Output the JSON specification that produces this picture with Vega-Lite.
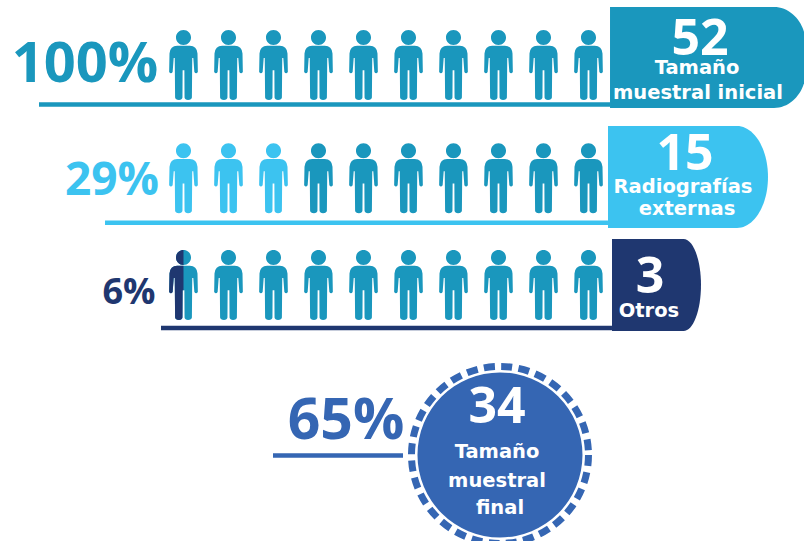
{
  "$schema": "https://vega.github.io/schema/vega-lite/v6.json",
  "width": 804,
  "height": 541,
  "padding": 0,
  "autosize": {"type": "none"},
  "background": "white",
  "config": {"view": {"stroke": null}},
  "datasets": {
    "personas": [
      {"fila": 1, "col": 1, "serie": "inicial"}, {"fila": 1, "col": 2, "serie": "inicial"}, {"fila": 1, "col": 3, "serie": "inicial"}, {"fila": 1, "col": 4, "serie": "inicial"}, {"fila": 1, "col": 5, "serie": "inicial"},
      {"fila": 1, "col": 6, "serie": "inicial"}, {"fila": 1, "col": 7, "serie": "inicial"}, {"fila": 1, "col": 8, "serie": "inicial"}, {"fila": 1, "col": 9, "serie": "inicial"}, {"fila": 1, "col": 10, "serie": "inicial"},
      {"fila": 2.03, "col": 1, "serie": "externas"}, {"fila": 2.03, "col": 2, "serie": "externas"}, {"fila": 2.03, "col": 3, "serie": "externas"}, {"fila": 2.03, "col": 4, "serie": "inicial"}, {"fila": 2.03, "col": 5, "serie": "inicial"},
      {"fila": 2.03, "col": 6, "serie": "inicial"}, {"fila": 2.03, "col": 7, "serie": "inicial"}, {"fila": 2.03, "col": 8, "serie": "inicial"}, {"fila": 2.03, "col": 9, "serie": "inicial"}, {"fila": 2.03, "col": 10, "serie": "inicial"},
      {"fila": 3, "col": 1, "serie": "inicial"}, {"fila": 3, "col": 2, "serie": "inicial"}, {"fila": 3, "col": 3, "serie": "inicial"}, {"fila": 3, "col": 4, "serie": "inicial"}, {"fila": 3, "col": 5, "serie": "inicial"},
      {"fila": 3, "col": 6, "serie": "inicial"}, {"fila": 3, "col": 7, "serie": "inicial"}, {"fila": 3, "col": 8, "serie": "inicial"}, {"fila": 3, "col": 9, "serie": "inicial"}, {"fila": 3, "col": 10, "serie": "inicial"}
    ],
    "mitades": [{"fila": 3, "col": 1, "serie": "otros"}],
    "bases": [
      {"serie": "inicial", "desde": -2.211, "hasta": 10.478, "fila": 1.359},
      {"serie": "externas", "desde": -0.744, "hasta": 10.433, "fila": 2.434},
      {"serie": "otros", "desde": 0.5, "hasta": 10.522, "fila": 3.391},
      {"serie": "final", "desde": 2.989, "hasta": 5.878, "fila": 4.551}
    ],
    "paneles": [
      {"serie": "inicial", "col": 12.656, "fila": 0.932},
      {"serie": "externas", "col": 12.211, "fila": 2.018},
      {"serie": "otros", "col": 11.511, "fila": 3}
    ],
    "circulo": [{"serie": "final", "col": 8.033, "fila": 4.545}],
    "porcentajes": [
      {"texto": "100%", "serie": "inicial", "col": -1.189, "fila": 1.0},
      {"texto": "29%", "serie": "externas", "col": -0.589, "fila": 2.055},
      {"texto": "6%", "serie": "otros", "col": -0.211, "fila": 3.073},
      {"texto": "65%", "serie": "final", "col": 4.611, "fila": 4.245}
    ],
    "totales": [
      {"texto": "52", "col": 12.478, "fila": 0.77},
      {"texto": "15", "col": 12.144, "fila": 1.816},
      {"texto": "3", "col": 11.367, "fila": 2.934},
      {"texto": "34", "col": 7.967, "fila": 4.116}
    ],
    "rotulos": [
      {"texto": "Tamaño", "col": 12.411, "fila": 1.027},
      {"texto": "muestral inicial", "col": 12.433, "fila": 1.255},
      {"texto": "Radiografías", "col": 12.1, "fila": 2.109},
      {"texto": "externas", "col": 12.189, "fila": 2.309},
      {"texto": "Otros", "col": 11.344, "fila": 3.236},
      {"texto": "Tamaño", "col": 7.967, "fila": 4.518},
      {"texto": "muestral", "col": 7.967, "fila": 4.782},
      {"texto": "final", "col": 8.033, "fila": 5.027}
    ]
  },
  "encoding": {
    "x": {"field": "col", "type": "quantitative", "axis": null, "scale": {"domain": [-3.0778, 14.789], "nice": false, "zero": false}},
    "y": {"field": "fila", "type": "quantitative", "axis": null, "scale": {"domain": [5.32727, 0.40909], "nice": false, "zero": false}}
  },
  "layer": [
    {
      "data": {"name": "personas"},
      "mark": {
        "type": "point", "filled": true, "opacity": 1, "size": 4900,
        "shape": "M0 -1 A.215 .215 0 1 1 0 -.57 A.215 .215 0 1 1 0 -1Z M-.18 -.55 L.18 -.55 Q.38 -.55 .4 -.33 L.41 .2 Q.36 .27 .31 .2 L.28 -.2 L.25 -.2 L.24 .93 Q.23 1 .13 1 Q.04 1 .03 .93 L.025 .15 L-.025 .15 L-.03 .93 Q-.04 1 -.13 1 Q-.23 1 -.24 .93 L-.25 -.2 L-.28 -.2 L-.31 .2 Q-.36 .27 -.41 .2 L-.4 -.33 Q-.38 -.55 -.18 -.55Z"
      },
      "encoding": {
        "color": {"field": "serie", "type": "nominal", "legend": null, "scale": {"domain": ["inicial", "externas", "otros", "final"], "range": ["#1A97BD", "#3CC3F0", "#1F3770", "#3566B3"]}}
      }
    },
    {
      "data": {"name": "mitades"},
      "mark": {
        "type": "point", "filled": true, "opacity": 1, "size": 4900,
        "shape": "M0 -1 A.215 .215 0 0 0 0 -.57Z M0 -.55 L-.18 -.55 Q-.38 -.55 -.4 -.33 L-.41 .2 Q-.36 .27 -.31 .2 L-.28 -.2 L-.25 -.2 L-.24 .93 Q-.23 1 -.13 1 Q-.04 1 -.03 .93 L-.025 .15 L0 .15Z"
      },
      "encoding": {
        "color": {"field": "serie", "type": "nominal", "legend": null}
      }
    },
    {
      "data": {"name": "bases"},
      "mark": {"type": "rule", "strokeWidth": 4.5},
      "encoding": {
        "x": {"field": "desde", "type": "quantitative"},
        "x2": {"field": "hasta"},
        "color": {"field": "serie", "type": "nominal", "legend": null}
      }
    },
    {
      "data": {"name": "paneles"},
      "mark": {"type": "point", "filled": true, "opacity": 1, "size": 40000},
      "encoding": {
        "color": {"field": "serie", "type": "nominal", "legend": null},
        "shape": {
          "field": "serie", "type": "nominal", "legend": null,
          "scale": {
            "domain": ["inicial", "externas", "otros"],
            "range": [
              "M-.98 -.505 L.66 -.505 A.32 .38 0 0 1 .98 -.125 L.98 .125 A.32 .38 0 0 1 .66 .505 L-.98 .505Z",
              "M-.8 -.51 L.49 -.51 A.31 .51 0 0 1 .49 .51 L-.8 .51Z",
              "M-.445 -.46 L.27 -.46 A.175 .46 0 0 1 .27 .46 L-.445 .46Z"
            ]
          }
        }
      }
    },
    {
      "data": {"name": "circulo"},
      "mark": {"type": "point", "shape": "circle", "filled": false, "opacity": 1, "size": 31329, "strokeWidth": 7, "strokeDash": [11, 6.4]},
      "encoding": {
        "stroke": {"field": "serie", "type": "nominal", "legend": null, "scale": {"domain": ["final"], "range": ["#3566B3"]}}
      }
    },
    {
      "data": {"name": "circulo"},
      "mark": {"type": "point", "shape": "circle", "filled": true, "opacity": 1, "size": 27225},
      "encoding": {
        "color": {"field": "serie", "type": "nominal", "legend": null}
      }
    },
    {
      "data": {"name": "porcentajes"},
      "mark": {"type": "text", "font": "Open Sans", "fontWeight": "bold", "align": "center", "baseline": "middle"},
      "encoding": {
        "text": {"field": "texto"},
        "color": {"field": "serie", "type": "nominal", "legend": null},
        "size": {"field": "serie", "type": "nominal", "legend": null, "scale": {"type": "ordinal", "domain": ["inicial", "externas", "otros", "final"], "range": [56, 46, 36, 57]}}
      }
    },
    {
      "data": {"name": "totales"},
      "mark": {"type": "text", "font": "Open Sans", "fontWeight": "bold", "fontSize": 50, "color": "white", "align": "center", "baseline": "middle"},
      "encoding": {"text": {"field": "texto"}}
    },
    {
      "data": {"name": "rotulos"},
      "mark": {"type": "text", "font": "DejaVu Sans", "fontWeight": "bold", "fontSize": 19.5, "color": "white", "align": "center", "baseline": "middle"},
      "encoding": {"text": {"field": "texto"}}
    }
  ]
}
